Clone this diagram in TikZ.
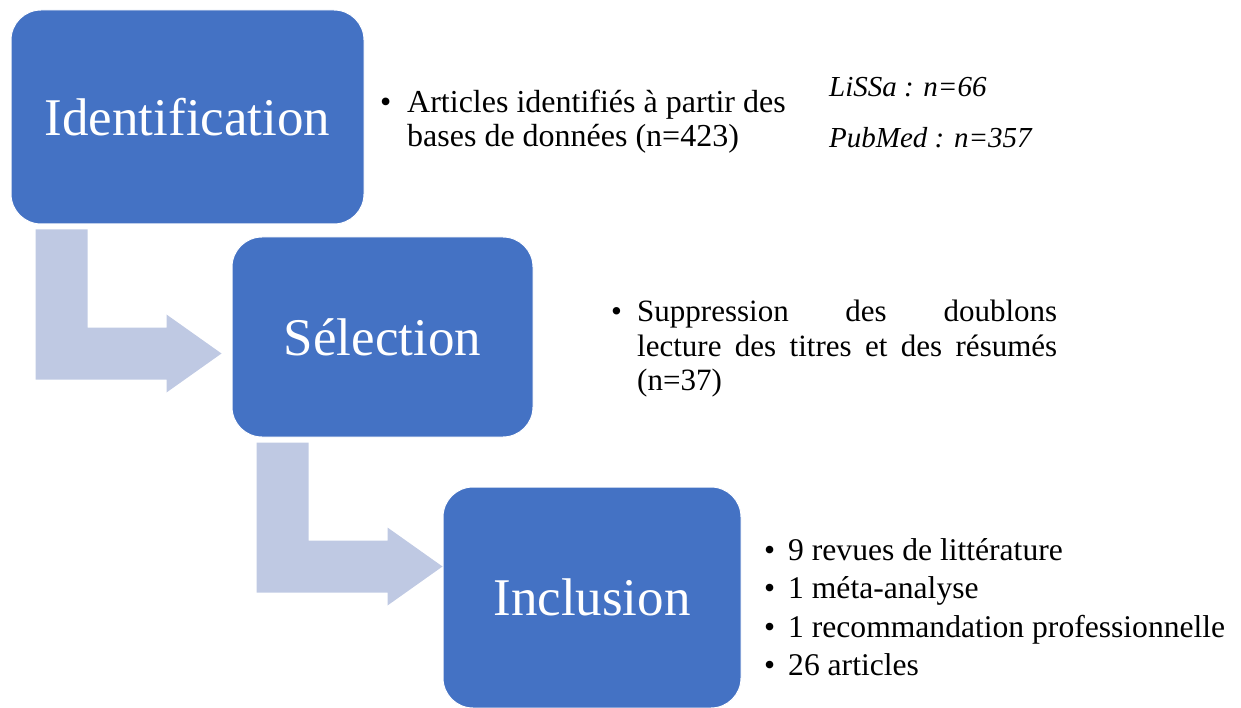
\documentclass[tikz,border=0pt]{standalone}
\usepackage{fontspec}
\setmainfont{Liberation Serif}
\definecolor{boxblue}{HTML}{4472C4}
\definecolor{arrowgray}{HTML}{BFC9E3}
\tikzset{
  box/.style={draw=white, line width=1pt, fill=boxblue, rounded corners=30pt,
    text=white, font=\fontsize{53}{60}\selectfont, inner sep=0pt},
  txt/.style={anchor=base west, inner sep=0pt, text=black},
  bentarrow/.pic={\fill[arrowgray] (25,5) -- (77,5) -- (77,103) -- (156,103)
    -- (156,90) -- (211,129) -- (156,168) -- (156,155) -- (25,155) -- cycle;}
}
\begin{document}
\begin{tikzpicture}[x=1pt,y=-1pt]
\useasboundingbox (0,0) rectangle (1241,708);
% boxes
\node[box, minimum width=353pt, minimum height=214pt] (ident) at (187.5,117) {Identification};
\node[box, minimum width=301pt, minimum height=200pt] (sel) at (382.5,337) {Sélection};
\node[box, minimum width=298pt, minimum height=221pt] (incl) at (592,597.5) {Inclusion};
% bent arrows
\pic at (ident.south west) {bentarrow};
\pic at (sel.south west) {bentarrow};
% identification text
\node[txt, font=\fontsize{32}{34}\selectfont] (b1) at (380,113) {•};
\node[txt, font=\fontsize{32}{34}\selectfont] (t1) at (407,113)
  {\parbox[t]{400pt}{Articles identifiés à partir des\\bases de données (n=423)}};
\node[txt, font=\itshape\fontsize{29}{30}\selectfont] (lissa) at (829,97) {LiSSa : n=66};
\node[txt, font=\itshape\fontsize{29}{30}\selectfont] (pub) at (829,148) {PubMed : n=357};
% selection text
\node[txt, font=\fontsize{31}{34.5}\selectfont] (b2) at (611,322) {•};
\node[txt, font=\fontsize{31}{34.5}\selectfont] (t2) at (637,322)
  {\parbox[t]{420pt}{\makebox[420pt][s]{Suppression des doublons}\\
   \makebox[420pt][s]{lecture des titres et des résumés}\\(n=37)}};
% inclusion text
\node[txt, font=\fontsize{31.6}{38.5}\selectfont] (b3) at (764,560)
  {\parbox[t]{20pt}{•\\•\\•\\•}};
\node[txt, font=\fontsize{31.6}{38.5}\selectfont] (t3) at (788,560)
  {\parbox[t]{450pt}{9 revues de littérature\\1 méta-analyse\\1 recommandation professionnelle\\26 articles}};
\end{tikzpicture}
\end{document}
